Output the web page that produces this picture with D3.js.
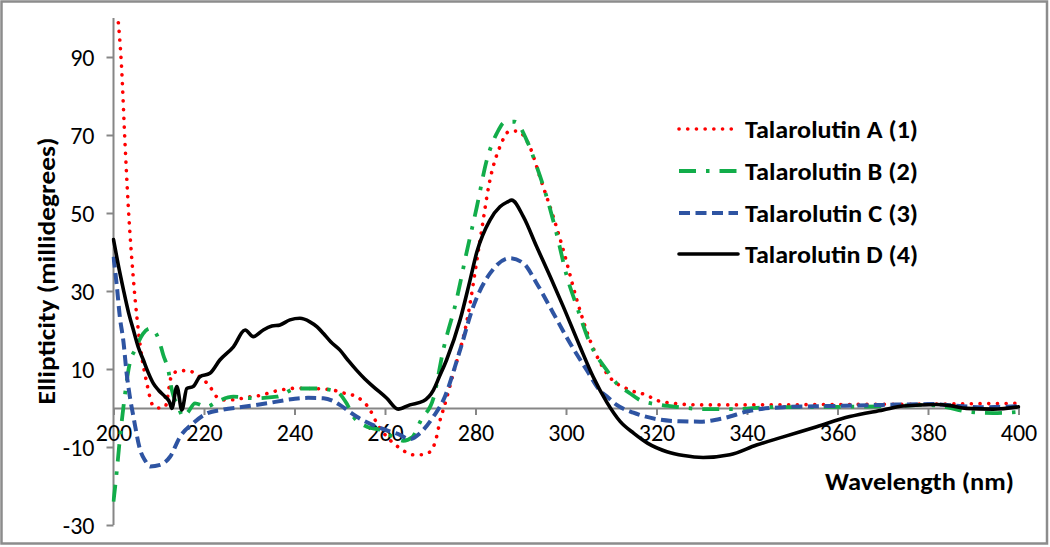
<!DOCTYPE html>
<html>
<head>
<meta charset="utf-8">
<script src="https://cdn.jsdelivr.net/npm/d3@7"></script>
<style>
  html, body { margin: 0; padding: 0; background: #fff; }
  svg { display: block; font-family: Carlito, Calibri, Lato, "Open Sans", sans-serif; }
</style>
</head>
<body>
<svg id="chart" width="1050" height="547"></svg>
<script>
// ---- data ----
const seriesNames = ["Talarolutin A (1)", "Talarolutin B (2)", "Talarolutin C (3)", "Talarolutin D (4)"];
const xTicks = [200, 220, 240, 260, 280, 300, 320, 340, 360, 380, 400];
const yTicks = [-30, -10, 10, 30, 50, 70, 90];

const wlA = [200.9,201.8,202.5,203.3,204.4,205.9,207.3,208.8,210,211.4,212.9,214.5,216.2,219.1,221.3,222.8,225,228,230.2,232.4,235.3,238,240.5,243.4,246,248.5,251,253.7,256.7,258.2,261.1,263.3,266.3,268,270,271.4,272.2,273,275.1,278,281,283.2,285.4,287.6,289.1,292,294.3,297.2,299.4,302.4,305.3,309,314.1,317.8,320,323.6,329.6,340,360,380,390,400];
const valA = [101,87,69,51,33,16,6.7,0.5,0,0.3,8.5,9.5,9.6,8,5.5,2.9,2,2.4,2.9,3.2,4.2,4.8,5.1,5,4.9,4.6,3.8,2.9,-0.5,-3.9,-8.2,-10.3,-12,-12,-11.2,-7.4,-3,0,8.9,21.7,43,58.5,67,71,71,67,59,49,40.5,27.7,17.4,8.9,4.6,3.3,2,1.2,0.8,0.8,0.9,1,1.1,1.2];

const wlB = [200,200.7,201.4,202.2,203.6,204.8,206.5,208.1,209.9,211,212.1,212.9,214.3,215.4,216.5,218,220.6,222.8,226.5,230.9,236.1,240.5,245,249.3,251.5,253,256,258.9,261.8,264,266,268,270.7,272.9,275.8,278,280.3,282.5,284.7,286.5,288.7,291.3,293.5,295.7,297.9,300.2,302.4,305.3,309,311.2,314.1,316.4,320.8,325,331,337,345,360,372,380,384,388.5,394.4,400];
const valB = [-24,-16.5,-8,0.3,11.5,15,19,20.4,17.9,13.6,9.7,4.6,0.3,-2.2,-1,1.2,0.3,1.6,2.9,2.5,2.9,5,5,4.2,1.2,-2.2,-4.8,-5.6,-7.4,-8.4,-7.5,-3,2.5,15,27.7,39.7,51.6,63.6,70.4,73.3,73.4,68.7,62,54.2,44.8,33.7,26,16.6,9.7,6.3,3.8,2,0.8,0.2,-0.3,-0.3,0.2,0.3,0.5,0.8,0.2,-0.9,-1.3,-1];

const wlC = [200,200.7,201.4,202.2,202.9,203.6,204.4,205.9,207,208.1,210.3,212.5,214.7,217.6,220.6,224.3,228.7,233.9,239.7,243,246.4,248.5,250,253.7,258.2,263.3,265.5,267.7,270.7,272.9,276.6,279.5,283.2,287.6,290.6,293.5,297.2,300.9,304.6,307.5,309,311.2,314.9,320.8,325,329.6,334.8,340.7,348,358,370,381,386,392,400];
const valC = [38.8,31.7,23.4,17,8.9,3,-2.2,-10.8,-13.5,-15,-14.6,-12.5,-7.4,-3.9,-1.4,-0.4,0.3,1.2,2.3,2.6,2.5,1.8,0.8,-2.2,-4.8,-6.9,-8,-6.5,-2.2,2,14.9,26,34.5,38.4,37.1,32,24.3,16.6,9.7,4.5,3,0.8,-1.2,-3,-3.4,-3.5,-2.6,-0.7,0.2,0.5,0.8,1,0.6,0.2,0.5];

const wlD = [200,201,202.2,203.3,204.4,205.5,206.6,207.7,208.8,210,211.4,212.4,212.9,214,215.1,216.2,217.6,219.1,221.3,223.5,226.5,229.1,230.9,233.1,235,236.8,239,241.2,243.4,245,246.4,248,250,252,253.7,255.5,257.4,260.4,262.9,265.5,268.5,270.7,272,273.6,276.6,278.8,280.3,283.2,285.4,287,288,290.6,293.5,296.5,299.4,303.1,306,309,312,315,318,322.3,326,330.3,336.2,342.1,348,355.4,362.7,370.1,374.5,381.9,385,388.5,394.4,400];
const valD = [43.2,37,30.3,24.6,20,15.5,12.3,9,6.3,4.5,2.9,1.5,-0.1,5.5,-0.5,5,5.5,8,8.9,12.3,15.7,20,18.3,20,21,21.3,22.6,23,22.1,20.8,19.1,17,14.9,12,9.7,7.5,5.5,2.5,-0.3,0.8,1.8,4.6,8,12.3,22.6,32.8,40,48.2,51.6,52.8,53.3,49,41.4,33.7,26,15.7,8,1.5,-3.5,-6.5,-9,-11.2,-12.2,-12.7,-12,-9.5,-7.4,-4.8,-2.2,-0.5,0.5,0.9,0.6,-0.1,-0.3,0.3];

// ---- chart ----
const svg = d3.select("#chart");
const FONT = "Carlito, Calibri, Lato, sans-serif";

// chart area border
svg.append("rect").attr("x", 1.5).attr("y", 1.5).attr("width", 1045.5).attr("height", 542)
  .attr("fill", "#fff").attr("stroke", "#8c8c8c").attr("stroke-width", 2.5);

const x = d3.scaleLinear().domain([200, 400]).range([113.5, 1018.5]);
const y = d3.scaleLinear().domain([-30, 100]).range([525, 18]);

const axisColor = "#868686";

// y axis
const yAxis = svg.append("g").attr("transform", `translate(${x(200)},0)`)
  .call(d3.axisLeft(y).tickValues(yTicks).tickFormat(d => String(d)).tickSize(7).tickSizeOuter(0).tickPadding(12));
yAxis.select(".domain").attr("stroke", axisColor).attr("stroke-width", 2)
  .attr("d", `M0,${y(100)}V${y(-30)}`);
yAxis.selectAll(".tick line").attr("stroke", axisColor).attr("stroke-width", 2);
yAxis.selectAll(".tick text").attr("font-size", 24).attr("fill", "#000")
  .attr("font-family", FONT).attr("dy", "0.35em");

// x axis at zero
const xAxis = svg.append("g").attr("transform", `translate(0,${y(0)})`)
  .call(d3.axisBottom(x).tickValues(xTicks).tickFormat(d => String(d)).tickSize(7).tickSizeOuter(0).tickPadding(9));
xAxis.select(".domain").attr("stroke", axisColor).attr("stroke-width", 2);
xAxis.selectAll(".tick line").attr("stroke", axisColor).attr("stroke-width", 2);
xAxis.selectAll(".tick text").attr("font-size", 24).attr("fill", "#000")
  .attr("font-family", FONT);

// clip
svg.append("clipPath").attr("id", "plotclip").append("rect")
  .attr("x", x(200) - 2).attr("y", y(100)).attr("width", x(400) - x(200) + 4).attr("height", y(-30) - y(100));

const styles = [
  { color: "#ff0000", width: 3.6, dash: "0.1 8.6", cap: "round" },
  { color: "#12ad4a", width: 3.8, dash: "17 10 3.5 10", cap: "butt" },
  { color: "#2e54a2", width: 4, dash: "11 5.5", cap: "butt" },
  { color: "#000000", width: 3.6, dash: null, cap: "round" }
];
const wls = [wlA, wlB, wlC, wlD];
const vals = [valA, valB, valC, valD];

const line = d3.line().x(d => x(d[0])).y(d => y(d[1])).curve(d3.curveMonotoneX);
const plot = svg.append("g").attr("clip-path", "url(#plotclip)");
wls.forEach((wl, i) => {
  const pts = wl.map((w, j) => [w, vals[i][j]]);
  const s = styles[i];
  plot.append("path").datum(pts).attr("d", line)
    .attr("fill", "none").attr("stroke", s.color).attr("stroke-width", s.width)
    .attr("stroke-linecap", s.cap).attr("stroke-linejoin", "round")
    .attr("stroke-dasharray", s.dash);
});

// axis titles
svg.append("text").attr("transform", `translate(46,271) rotate(-90)`)
  .attr("text-anchor", "middle").attr("dominant-baseline", "central")
  .attr("font-size", 24).attr("font-weight", "bold").attr("fill", "#000")
  .attr("textLength", 267).attr("lengthAdjust", "spacingAndGlyphs")
  .text("Ellipticity (millidegrees)");
svg.append("text").attr("x", 825).attr("y", 481)
  .attr("text-anchor", "start").attr("dominant-baseline", "central")
  .attr("font-size", 24).attr("font-weight", "bold").attr("fill", "#000")
  .attr("textLength", 189).attr("lengthAdjust", "spacingAndGlyphs")
  .text("Wavelength (nm)");

// legend
const legY = [129, 171, 213, 254];
const leg = svg.append("g");
seriesNames.forEach((name, i) => {
  const s = styles[i];
  leg.append("line").attr("x1", 679).attr("x2", 738).attr("y1", legY[i]).attr("y2", legY[i])
    .attr("stroke", s.color).attr("stroke-width", s.width).attr("stroke-linecap", s.cap)
    .attr("stroke-dasharray", s.dash);
  leg.append("text").attr("x", 745).attr("y", legY[i]).attr("dominant-baseline", "central")
    .attr("font-size", 24).attr("font-weight", "bold").attr("fill", "#000")
    .attr("textLength", 173).attr("lengthAdjust", "spacingAndGlyphs")
    .text(name);
});
</script>
</body>
</html>
